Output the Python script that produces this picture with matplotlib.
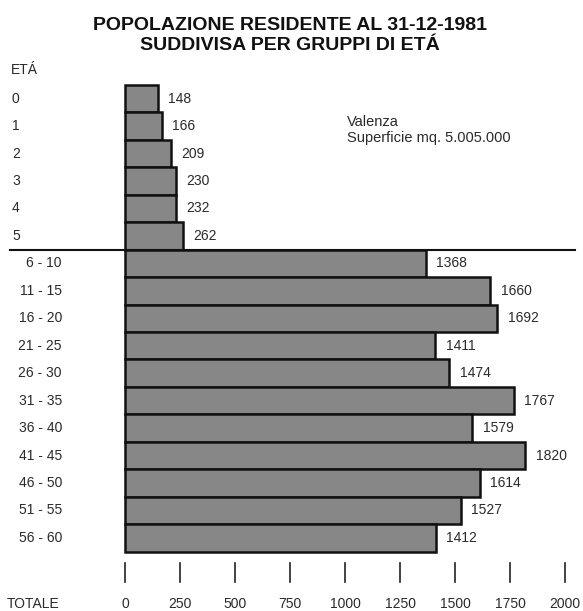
import matplotlib.pyplot as plt
import matplotlib.transforms as mtransforms

# age groups and resident counts (Valenza, 31-12-1981)
eta = ['0', '1', '2', '3', '4', '5', '6 - 10', '11 - 15', '16 - 20', '21 - 25',
       '26 - 30', '31 - 35', '36 - 40', '41 - 45', '46 - 50', '51 - 55', '56 - 60']
residenti = [148, 166, 209, 230, 232, 262, 1368, 1660, 1692, 1411,
             1474, 1767, 1579, 1820, 1614, 1527, 1412]
totale_ticks = [0, 250, 500, 750, 1000, 1250, 1500, 1750, 2000]

W, H = 583, 611
fig = plt.figure(figsize=(W / 100, H / 100), dpi=100)
plt.rcParams['font.family'] = ['Liberation Sans', 'DejaVu Sans']
txt = '#2a2a2a'

# axes: x=0 at px 125, x=2000 at px 565; full height
ax = fig.add_axes([125 / W, 0, 440 / W, 1])
ax.set_xlim(0, 2000)
row0, step = 98.7, 27.45
ax.set_ylim((H - row0) / step, -row0 / step)
ax.axis('off')

ypos = list(range(len(eta)))
ax.barh(ypos, residenti, height=1.0, color='#878787', edgecolor='#111111',
        linewidth=1.8, clip_on=False)

for y, v in zip(ypos, residenti):
    ax.annotate(str(v), (v, y), xytext=(7.5, 0), textcoords='offset points',
                va='center', ha='left', fontsize=10, color=txt)

# separator between single years and 5-year groups
fig.add_artist(plt.Line2D([10 / W, 575 / W], [1 - 250 / H, 1 - 250 / H],
                          color='#111111', lw=1.5))

# tick marks under the chart
tr = mtransforms.blended_transform_factory(ax.transData, fig.transFigure)
for t in totale_ticks:
    ax.plot([t, t], [1 - 563 / H, 1 - 582 / H], color='#222222', lw=1.2,
            transform=tr, clip_on=False)
    ax.text(t, 1 - 604 / H, str(t), transform=tr, ha='center', va='center',
            fontsize=10, color=txt)

# left labels
tl = mtransforms.blended_transform_factory(fig.transFigure, ax.transData)
for y, lab in zip(ypos, eta):
    if '-' in lab:
        ax.text(62 / W, y, lab, transform=tl, ha='right', va='center',
                fontsize=10, color=txt)
    else:
        ax.text(12 / W, y, lab, transform=tl, ha='left', va='center',
                fontsize=10, color=txt)

fig.text(11 / W, 1 - 70 / H, 'ETÁ', ha='left', va='center', fontsize=10, color=txt)
fig.text(7 / W, 1 - 604 / H, 'TOTALE', ha='left', va='center', fontsize=10, color=txt)

fig.text(290 / W, 1 - 25 / H, 'POPOLAZIONE RESIDENTE AL 31-12-1981', ha='center',
         va='center', fontsize=14, fontweight='bold', color='#111111')
fig.text(290 / W, 1 - 45 / H, 'SUDDIVISA PER GRUPPI DI ETÁ', ha='center',
         va='center', fontsize=14, fontweight='bold', color='#111111')

fig.text(347 / W, 1 - 122 / H, 'Valenza', ha='left', va='center', fontsize=10.5, color=txt)
fig.text(347 / W, 1 - 138 / H, 'Superficie mq. 5.005.000', ha='left', va='center',
         fontsize=10.5, color=txt)

fig.savefig('out.png', dpi=100, facecolor='white')
